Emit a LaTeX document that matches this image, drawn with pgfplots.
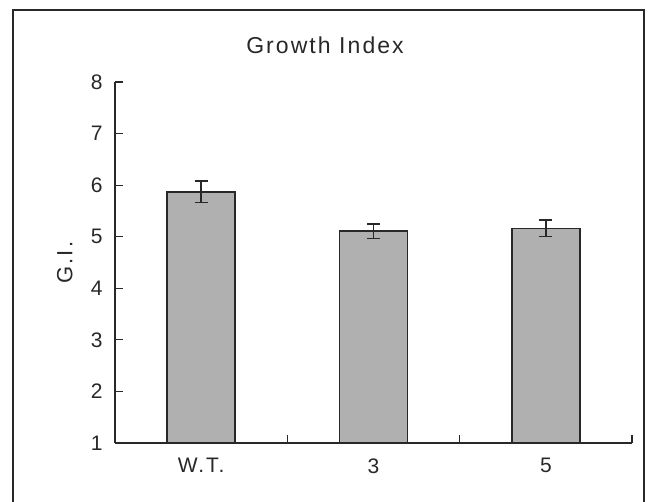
\documentclass[border=0pt]{standalone}
\usepackage{pgfplots}
\pgfplotsset{compat=1.18}
\usepackage{fontspec}
\setmainfont{Liberation Sans}
\newfontfamily\spaced[LetterSpace=9]{Liberation Sans}
\definecolor{barfill}{RGB}{176,176,176}
\definecolor{ink}{RGB}{40,40,40}
\begin{document}
\begin{tikzpicture}[x=1bp,y=1bp]
\useasboundingbox (-115,-59) rectangle (533,443);
\draw[line width=1.3bp, ink] (-102,-70) -- (-102,433) -- (529,433) -- (529,-70);
\node[font=\spaced\fontsize{23bp}{28bp}\selectfont, text=ink] at (210,398) {Growth Index};
\begin{axis}[
  at={(0,0)}, anchor=south west,
  scale only axis, width=517bp, height=361bp,
  xmin=-0.5, xmax=2.5, ymin=1, ymax=8,
  axis x line*=bottom, axis y line*=left,
  axis line style={line width=1.3bp, ink, -},
  /pgf/number format/assume math mode=true,
  ticklabel style={font=\fontsize{21bp}{25bp}\selectfont, text=ink},
  tick style={line width=1.2bp, ink},
  tick align=inside,
  major tick length=0pt,
  minor tick length=8bp,
  ytick={1,2,3,4,5,6,7,8},
  minor ytick={1,2,3,4,5,6,7,8},
  yticklabel style={xshift=-9bp},
  xtick={0,1,2},
  xticklabels={{\spaced W.T.},{3},{5}},
  minor xtick={-0.5,0.5,1.5,2.5},
  xticklabel style={yshift=-12bp},
  ylabel={G.I.},
  ylabel style={at={(axis description cs:-0.097,0.5)}, anchor=center, font=\spaced\fontsize{22bp}{26bp}\selectfont, text=ink},
]
\addplot[ybar, bar width=68bp, fill=barfill, draw=ink, line width=1.6bp,
  error bars/.cd, y dir=both, y explicit,
  error bar style={line width=1.5bp, ink},
  error mark options={rotate=90, mark size=6.5bp, line width=1.5bp, ink}]
  coordinates {
  (0,5.87) +- (0,0.21)
  (1,5.11) +- (0,0.14)
  (2,5.16) +- (0,0.16)
  };
\end{axis}
\end{tikzpicture}
\end{document}
